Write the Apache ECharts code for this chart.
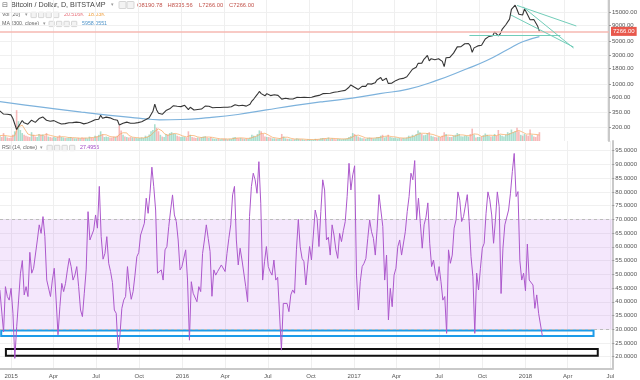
<!DOCTYPE html>
<html><head><meta charset="utf-8">
<script src="https://cdn.jsdelivr.net/npm/echarts@6/dist/echarts.min.js"></script>
<style>html,body{margin:0;padding:0;background:#fff}#c{width:640px;height:380px}</style>
</head><body><div id="c"></div><script>
// ---- data (4-day samples starting at startDate) ----
const startDate = '2014-12-08';
const stepDays = 4;
const closes = [
365,352,325,328,322,317,315,275,290,182,
205,228,255,234,225,222,220,258,242,238,
252,275,274,292,285,258,268,248,247,254,
254,237,222,224,236,227,232,235,243,236,
236,240,237,237,226,225,229,233,248,245,
243,263,258,268,310,278,278,290,293,282,
281,265,265,257,215,210,230,228,240,238,
230,232,230,235,236,238,243,246,262,268,
283,305,360,470,380,335,335,322,328,370,
360,395,415,445,460,435,422,430,432,452,
445,385,420,400,378,372,385,375,392,415,
438,425,435,408,412,412,415,410,415,424,
420,422,420,425,428,448,462,448,445,458,
452,455,438,443,470,530,572,580,685,760,
700,660,645,700,670,650,655,670,655,655,
655,570,590,590,568,575,580,572,573,608,
622,605,606,608,600,605,612,612,617,638,
636,655,675,700,688,705,715,712,745,738,
730,752,765,772,780,790,830,890,970,1020,
890,905,820,870,920,915,920,1015,1050,1000,
1010,1050,1170,1190,1280,1140,1210,1250,1030,1030,
1040,1080,1140,1180,1210,1180,1240,1250,1320,1450,
1560,1750,1770,1880,2180,2250,2200,2500,2700,2950,
2400,2600,2680,2500,2450,2600,2500,2350,1930,2700,
2600,2730,2710,3200,3420,4050,4050,4080,4350,4550,
4600,4600,4200,3300,3900,3780,4200,4400,4300,4600,
5450,5600,6000,5700,6150,7100,6950,6100,6600,7800,
8100,9300,9900,11500,16500,16800,19400,16500,13800,14400,
13400,16900,14800,14000,11200,11600,11300,11200,8900,7266
];
const rsiValues = [
44.3,44.9,29,45.5,41.9,40.6,44.9,35.8,19.4,30.9,
40.6,50.4,55,42.5,45.5,41.9,58,50.4,52.2,52.8,
62.5,68,64.9,71,63.7,47.9,48.5,41.9,47.9,52.2,
40.6,28,38.2,46.7,43.7,46.7,51.6,55.8,52.8,47.9,
49.7,52.8,45.5,37,34.6,43.1,51.6,72.8,62.5,64.3,
66.1,71.6,66.8,82,63.7,55.5,57.6,63.7,54,51,
47,37,35.8,22.5,27.9,37.6,40.6,41.9,52.8,45.5,
40.9,43.7,49.7,56.4,57.9,64.3,63.7,68.6,77.7,72.2,
79.5,89,81.9,73.4,50.4,50.4,51.6,47.9,58.9,60.1,
67.4,73.4,78.9,71.6,69.2,62.5,51.6,52.8,53.4,58.9,
47.9,26,47.3,43.1,43.7,40,45.5,43.7,57.6,62.5,
68,63.1,58.3,42,51.6,49.7,51,51.6,53.4,52.8,
51,57.6,63.1,68,78.9,82,62.5,53.4,59.5,55.2,
55.8,45.5,40,71,81.9,86.8,84.4,79.5,91,75.9,
47.9,54.6,60.1,52.8,51,49.7,55.2,47.9,48.9,48.2,
22.4,39.4,38.8,39.4,36.4,42.5,44.3,43.1,58.9,70,
60,55.8,54.6,46.1,53.4,60.1,55.2,64.3,73.4,70.4,
60.1,72.8,84.4,80.7,62.5,63.5,57,68,64.3,58.9,
55.8,64.9,61.9,65.9,69.2,78.3,90.4,80.7,86.2,89.5,
49.7,37,47.3,52.8,54,55.8,63.1,69.8,65.5,63.1,
57,66.8,79,78.3,67.4,47.9,57,33.4,44.9,38.2,
49.7,52.2,60.1,62.5,57,56.4,65.5,72.8,78.3,86.8,
84.4,91.4,69.8,77.7,68.6,59.5,68,70.8,76,61.3,
52.8,55.2,50.4,47.7,52.8,47.3,40.6,41.9,28.5,58.9,
54,57,66.8,69.8,80,77,69.2,71,71.6,79,
69.2,56.4,49.1,28.5,50.4,44.3,52.2,59.5,61.3,72.2,
80,77.1,71.6,61.3,69.8,80,74.6,43,59.5,68,
67.4,73.4,79.5,87.4,94,78.3,80.1,55,47.9,50.4,
44,61,47.9,47.3,46.1,37.6,42.5,35.8,35.2,27.5
];
const volumesK = [
12,9,18,11,8,7,8,
14,22,70,45,25,18,14,
12,10,9,20,14,10,9,
16,14,15,12,18,10,9,8,
9,8,10,13,9,8,7,
7,8,9,7,6,6,7,6,
8,7,7,6,10,8,7,
12,10,14,22,15,9,10,9,
8,8,10,9,12,35,24,14,
10,9,8,9,8,7,7,6,
7,8,7,12,10,15,22,
25,38,30,22,14,10,9,16,
15,18,20,17,16,12,10,9,
10,9,8,22,14,9,8,
7,8,7,9,10,11,8,7,
9,6,5,5,5,4,5,
5,5,4,5,5,8,9,7,
6,7,6,5,6,5,8,14,
12,10,16,24,22,16,10,9,
9,8,6,6,5,5,6,
16,10,6,5,5,4,4,4,
6,5,4,4,3,3,4,3,
3,3,5,4,4,6,7,
6,5,8,5,6,5,4,5,
5,4,5,5,6,9,11,
18,16,12,10,8,6,6,5,
7,8,7,6,6,9,9,
12,14,8,10,14,9,8,7,
8,6,7,6,7,6,8,
12,10,14,12,16,24,20,16,
13,14,18,20,12,10,9,
8,9,9,12,20,16,10,9,
9,12,14,18,16,11,10,12,
12,10,16,28,15,8,9,
9,10,13,17,14,12,10,11,
16,12,25,14,12,10,14,20,
18,26,20,22,30,22,14,
12,16,14,12,26,14,10,9,14,20
];
const ma300Dates = ['2014-12-08','2015-02-01','2015-04-01','2015-06-01','2015-08-01','2015-10-01','2015-11-15','2016-01-01','2016-03-01','2016-05-01','2016-07-01','2016-09-01','2016-11-01','2017-01-01','2017-03-01','2017-05-01','2017-07-01','2017-09-01','2017-10-15','2017-12-01','2018-01-01','2018-02-06'];
const ma300Values = [520,455,400,350,310,280,262,265,285,320,380,450,520,590,700,830,1150,1750,2400,3700,4900,5958];
const trendLines = [
  [['2017-12-20',19200],['2018-04-26',8870]],
  [['2017-12-07',13400],['2018-04-20',4030]],
  [['2018-01-02',18100],['2018-04-20',3880]],
  [['2017-09-09',6320],['2018-03-23',6320]]
];
const blueBox = [['2014-12-11',29.5],['2018-05-26',27.5]];
const blackBox = [['2014-12-21',22.8],['2018-06-04',20.3]];
const priceTicks = [200,350,600,1000,1800,3000,5000,9000,15000];
const rsiTicks = [20,25,30,35,40,45,50,55,60,65,70,75,80,85,90,95];
const quarterTicks = ['2015-01-01','2015-04-01','2015-07-01','2015-10-01','2016-01-01','2016-04-01','2016-07-01','2016-10-01','2017-01-01','2017-04-01','2017-07-01','2017-10-01','2018-01-01','2018-04-01','2018-07-01'];
const monthNames = ['Jan','Feb','Mar','Apr','May','Jun','Jul','Aug','Sep','Oct','Nov','Dec'];
const lastPrice = 7266;
const rsiBand = [30,70];

// ---- helpers ----
const ts = s => { const p = s.split('-').map(Number); return Date.UTC(p[0], p[1]-1, p[2]); };
const DAY = 86400000;
const t0 = ts(startDate);
const times = closes.map((_, i) => t0 + i*stepDays*DAY);
const L = Math.log10;
const xMin = Date.UTC(2014,11,8,10), xMax = Date.UTC(2018,6,5);
const qVals = quarterTicks.map(ts);
const pVals = priceTicks.map(L);
const yMax = L(15000) + 12/61.33, yMin = yMax - 141/61.33;

const volData = volumesK.map((v, i) => ({
  value: [times[i], v],
  itemStyle: { color: (i === 0 || closes[i] >= closes[i-1]) ? 'rgba(100,195,165,0.55)' : 'rgba(240,115,115,0.5)' }
}));
const volMA = volumesK.map((v, i) => {
  const s = volumesK.slice(Math.max(0, i-4), i+1);
  return [times[i], s.reduce((a,b)=>a+b,0)/s.length];
});

const FONT = 'Liberation Sans, Arial, sans-serif';
const axisLab = { fontSize: 6, color: '#555', fontFamily: FONT };

function boxesAt(xs, y0, size) {
  return xs.map(x => ({ type: 'rect', x: x, y: y0, shape: { width: size, height: size, r: 0.5 }, style: { fill: '#f3f3f3', stroke: '#cdcdcd', lineWidth: 0.8 }, silent: true }));
}
function txt(x, y, text, fill, size) {
  return { type: 'text', x: x, y: y, silent: true, style: { text: text, fill: fill, fontSize: size, fontFamily: FONT, verticalAlign: 'middle' } };
}

const chart = echarts.init(document.getElementById('c'), null, { renderer: 'canvas' });
chart.setOption({
  animation: false,
  backgroundColor: '#fff',
  grid: [
    { left: 0, right: 26, top: 0, height: 141 },
    { left: 0, right: 26, top: 141, bottom: 11 }
  ],
  xAxis: [
    { type: 'value', gridIndex: 0, min: xMin, max: xMax,
      axisLine: { show: false }, axisLabel: { show: false },
      axisTick: { show: false, customValues: qVals },
      splitLine: { show: true, lineStyle: { color: '#efefef', width: 1 } } },
    { type: 'value', gridIndex: 1, min: xMin, max: xMax,
      axisLine: { show: true, onZero: false, lineStyle: { color: '#c9c9c9', width: 2 } },
      axisTick: { show: false, customValues: qVals },
      axisLabel: Object.assign({ customValues: qVals, margin: 4, formatter: v => { const d = new Date(v); return d.getUTCMonth() === 0 ? String(d.getUTCFullYear()) : monthNames[d.getUTCMonth()]; } }, axisLab),
      splitLine: { show: true, lineStyle: { color: '#efefef', width: 1 } } }
  ],
  yAxis: [
    { type: 'value', gridIndex: 0, position: 'right', min: yMin, max: yMax,
      axisLine: { show: true, lineStyle: { color: '#c9c9c9', width: 2 } },
      axisTick: { show: true, length: 2, customValues: pVals, lineStyle: { color: '#999' } },
      axisLabel: Object.assign({ customValues: pVals, margin: 3, formatter: v => { let best = priceTicks[0]; priceTicks.forEach(p => { if (Math.abs(L(p)-v) < Math.abs(L(best)-v)) best = p; }); return best.toFixed(2); } }, axisLab),
      splitLine: { show: true, lineStyle: { color: '#f0f0f0' } } },
    { type: 'value', gridIndex: 0, min: 0, max: 320, show: false, splitLine: { show: false } },
    { type: 'value', gridIndex: 1, position: 'right', min: 15.52, max: 98.53,
      axisLine: { show: true, lineStyle: { color: '#c9c9c9', width: 2 } },
      axisTick: { show: true, length: 2, customValues: rsiTicks, lineStyle: { color: '#999' } },
      axisLabel: Object.assign({ customValues: rsiTicks, margin: 3, formatter: v => Number(v).toFixed(4) }, axisLab),
      splitLine: { show: true, lineStyle: { color: '#f0f0f0' } } }
  ],
  series: [
    { type: 'bar', name: 'vol', xAxisIndex: 0, yAxisIndex: 1, data: volData, barWidth: 1.6, silent: true, z: 1 },
    { type: 'line', name: 'volma', xAxisIndex: 0, yAxisIndex: 1, data: volMA, showSymbol: false, lineStyle: { color: '#f6a75e', width: 0.7 }, silent: true, z: 2 },
    { type: 'line', name: 'ma', xAxisIndex: 0, yAxisIndex: 0, data: ma300Dates.map((d,i)=>[ts(d), L(ma300Values[i])]), showSymbol: false, smooth: true, lineStyle: { color: '#7db2dc', width: 1.2 }, silent: true, z: 3 },
    { type: 'line', name: 'price', xAxisIndex: 0, yAxisIndex: 0, data: times.map((t,i)=>[t, L(closes[i])]), showSymbol: false, lineStyle: { color: '#363636', width: 1.1 }, silent: true, z: 4,
      markLine: { silent: true, symbol: ['none','none'], animation: false,
        data: [
          { yAxis: L(lastPrice), lineStyle: { color: '#f6b8b2', width: 1.5, type: 'solid' },
            label: { show: true, position: 'end', distance: 2, formatter: lastPrice.toFixed(2), backgroundColor: '#e8584c', color: '#fff', fontSize: 6, fontFamily: FONT, padding: [2,2,1,2] } }
        ].concat(trendLines.map(l => [
          { coord: [ts(l[0][0]), L(l[0][1])], lineStyle: { color: '#72cdb9', width: 1, type: 'solid' }, label: { show: false } },
          { coord: [ts(l[1][0]), L(l[1][1])] }
        ]))
      } },
    { type: 'line', name: 'rsi', xAxisIndex: 1, yAxisIndex: 2, data: times.map((t,i)=>[t, rsiValues[i]]), showSymbol: false, lineStyle: { color: '#ac58cc', width: 1 }, silent: true, z: 5,
      markArea: { silent: true, label: { show: false },
        data: [
          [{ yAxis: rsiBand[0], itemStyle: { color: 'rgba(175,88,235,0.14)' } }, { yAxis: rsiBand[1] }],
          [{ xAxis: ts(blueBox[0][0]), yAxis: blueBox[0][1], itemStyle: { color: 'rgba(0,0,0,0)', borderColor: '#1d9be8', borderWidth: 2 } }, { xAxis: ts(blueBox[1][0]), yAxis: blueBox[1][1] }],
          [{ xAxis: ts(blackBox[0][0]), yAxis: blackBox[0][1], itemStyle: { color: 'rgba(0,0,0,0)', borderColor: '#111', borderWidth: 2 } }, { xAxis: ts(blackBox[1][0]), yAxis: blackBox[1][1] }]
        ] },
      markLine: { silent: true, symbol: ['none','none'], label: { show: false },
        lineStyle: { color: '#bbb', type: [3,3], width: 1 },
        data: rsiBand.map(v => ({ yAxis: v })) } }
  ],
  graphic: [
    txt(1.5, 5, '⊟', '#666', 7),
    txt(11, 5, 'Bitcoin / Dollar, D, BITSTAMP', '#444', 7.2),
    txt(111, 5, '▾', '#999', 5),
    ...boxesAt([119, 127], 1.5, 7),
    txt(137, 5, 'O8190.78', '#c2534b', 5.8),
    txt(167.5, 5, 'H8335.56', '#c2534b', 5.8),
    txt(199, 5, 'L7266.00', '#c2534b', 5.8),
    txt(229, 5, 'C7266.00', '#c2534b', 5.8),
    txt(2, 15, 'Vol (20)', '#666', 5.3),
    txt(25, 15, '▾', '#999', 4.5),
    ...boxesAt([31, 38.5, 46, 53.5], 12.3, 5.3),
    txt(64, 15, '20.516K', '#e8707a', 5.3),
    txt(88, 15, '18.03K', '#f0a040', 5.3),
    txt(2, 24, 'MA (300, close)', '#666', 5.3),
    txt(43, 24, '▾', '#999', 4.5),
    ...boxesAt([49, 56.5, 64, 71.5], 21.3, 5.3),
    txt(82, 24, '5958.0551', '#4f94c9', 5.3),
    txt(2, 148, 'RSI (14, close)', '#666', 5.3),
    txt(40, 148, '▾', '#999', 4.5),
    ...boxesAt([47, 54.5, 62, 69.5], 145.3, 5.3),
    txt(80, 148, '27.4956', '#a347c6', 5.3)
  ]
});
</script></body></html>
